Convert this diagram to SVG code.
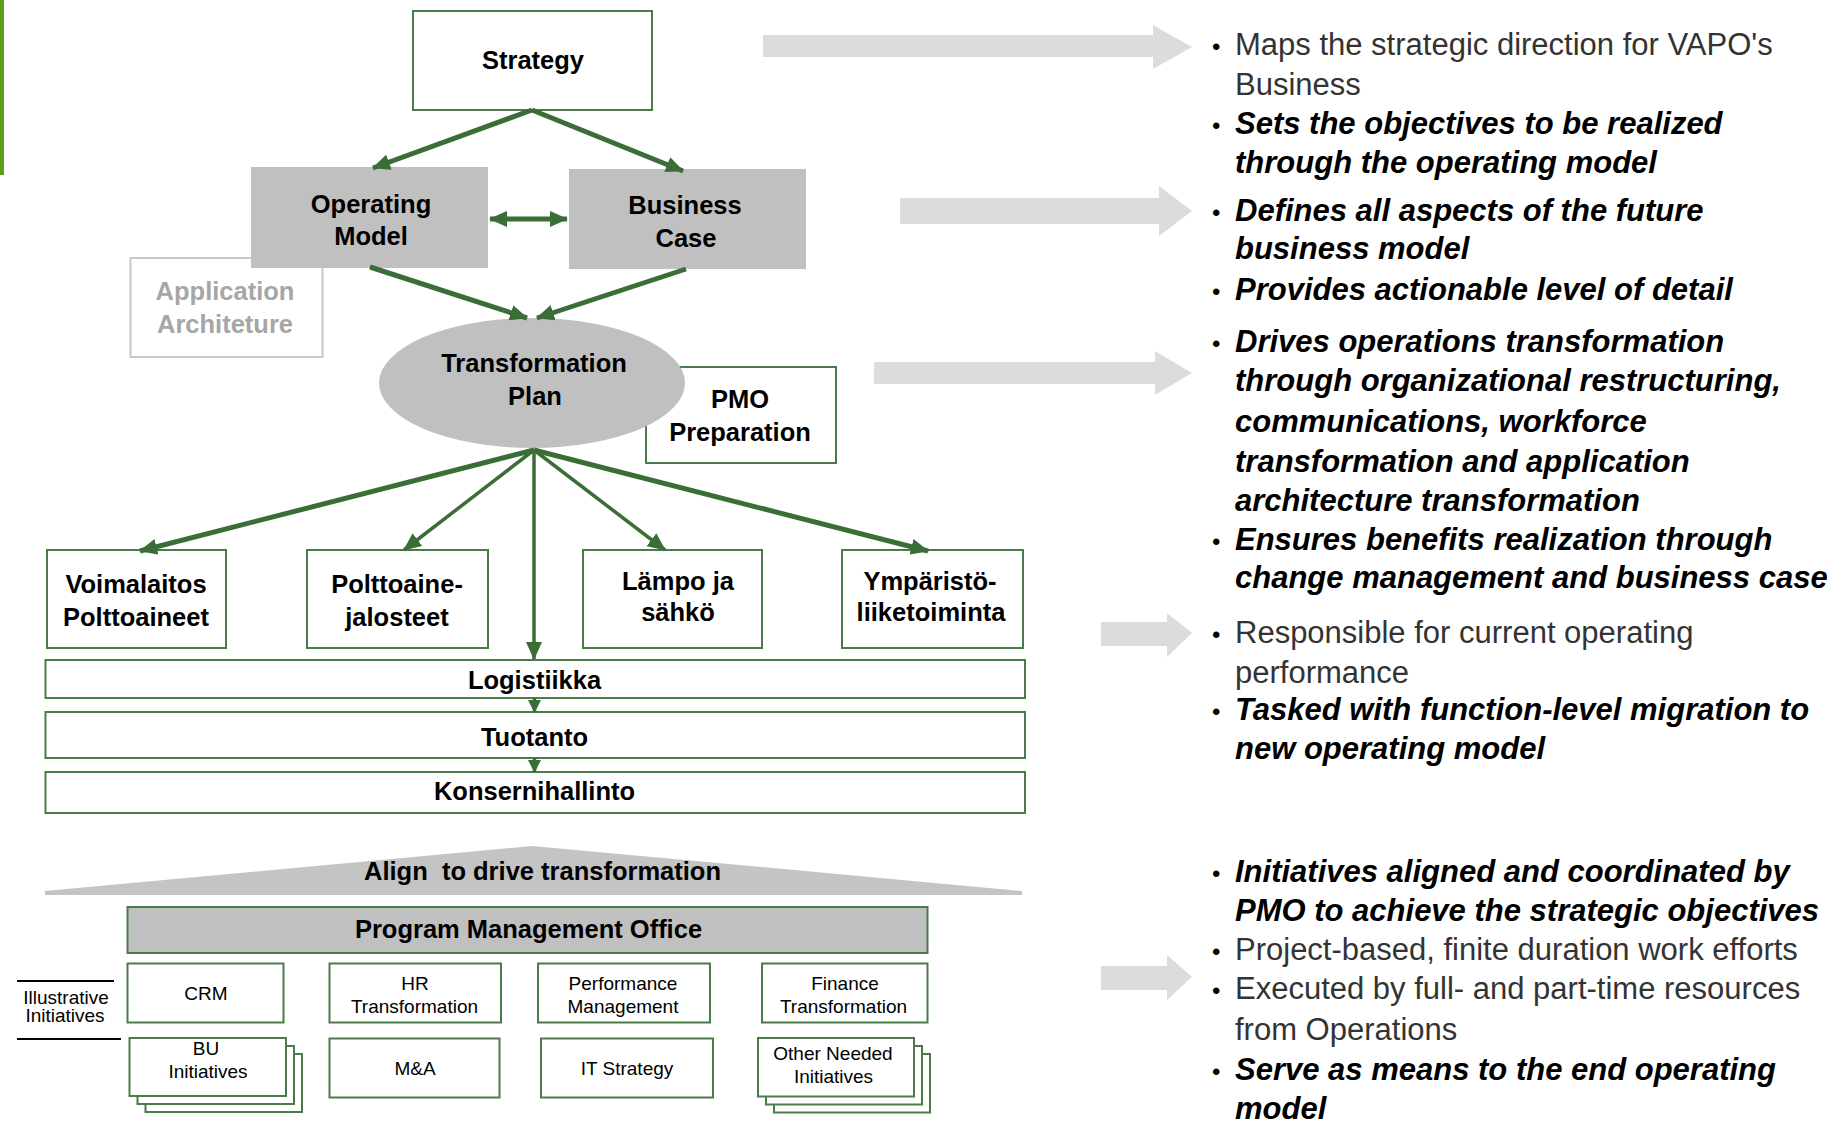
<svg xmlns="http://www.w3.org/2000/svg" width="1841" height="1125" viewBox="0 0 1841 1125">
<style>
.box{fill:#fff;stroke:#4a7c47;stroke-width:2}
.gbox{fill:#c0c0c0;stroke:none}
.lbl{font-family:"Liberation Sans",Arial,sans-serif;font-weight:bold;font-size:25.5px;text-anchor:middle;fill:#000}
.sm{font-family:"Liberation Sans",Arial,sans-serif;font-size:19px;text-anchor:middle;fill:#000}
.rt{font-family:"Liberation Sans",Arial,sans-serif;font-size:31px;fill:#333}
.bi{font-weight:bold;font-style:italic;fill:#000}
.bul{font-family:"Liberation Sans",Arial,sans-serif;font-size:24px;fill:#000}
.ptr{fill:#dcdcdc}
.conn line{stroke:#3b6e37;stroke-width:5}
.conn line.thin{stroke-width:3.5}
</style>
<defs>
<marker id="ah" markerUnits="userSpaceOnUse" markerWidth="18" markerHeight="16" viewBox="0 0 18 16" refX="17" refY="8" orient="auto"><path d="M0,0 L18,8 L0,16 z" fill="#3b6e37"/></marker>
<marker id="ahs" markerUnits="userSpaceOnUse" markerWidth="18" markerHeight="16" viewBox="0 0 18 16" refX="1" refY="8" orient="auto"><path d="M18,0 L0,8 L18,16 z" fill="#3b6e37"/></marker>
<marker id="ahsm" markerUnits="userSpaceOnUse" markerWidth="13" markerHeight="13" viewBox="0 0 13 13" refX="12" refY="6.5" orient="auto"><path d="M0,0 L13,6.5 L0,13 z" fill="#3b6e37"/></marker>
</defs>
<rect width="1841" height="1125" fill="#fff"/>
<rect x="0" y="0" width="4" height="175" fill="#5b9e1c"/>

<g id="pointers">
<polygon class="ptr" points="763,35 1153,35 1153,25 1192,47 1153,69 1153,57 763,57"/>
<polygon class="ptr" points="900,198 1159,198 1159,186 1192,211 1159,236 1159,224 900,224"/>
<polygon class="ptr" points="874,362 1155,362 1155,351 1192,373 1155,395 1155,384 874,384"/>
<polygon class="ptr" points="1101,622 1167,622 1167,613 1192,633 1167,657 1167,646 1101,646"/>
<polygon class="ptr" points="1101,966 1167,966 1167,955 1192,977 1167,1000 1167,990 1101,990"/>
</g>

<g id="strategy">
<rect class="box" x="413" y="11" width="239" height="99"/>
<text class="lbl" x="533" y="69">Strategy</text>
</g>
<g id="app-arch">
<rect x="130.5" y="258" width="192" height="99" fill="#fff" stroke="#c8c8c8" stroke-width="2"/>
<text class="lbl" x="225" y="300" fill="#a6a6a6" style="fill:#a6a6a6">Application</text>
<text class="lbl" x="225" y="333" style="fill:#a6a6a6">Architeture</text>
</g>
<g id="operating-model">
<rect class="gbox" x="251" y="167" width="237" height="101"/>
<text class="lbl" x="371" y="213">Operating</text>
<text class="lbl" x="371" y="245">Model</text>
</g>
<g id="business-case">
<rect class="gbox" x="569" y="169" width="237" height="100"/>
<text class="lbl" x="685" y="214">Business</text>
<text class="lbl" x="686" y="247">Case</text>
</g>
<g id="pmo-prep">
<rect class="box" x="646" y="367" width="190" height="96"/>
<text class="lbl" x="740" y="408">PMO</text>
<text class="lbl" x="740" y="440.5">Preparation</text>
</g>
<g id="transformation-plan">
<ellipse cx="532" cy="383" rx="153" ry="65" fill="#c0c0c0"/>
<text class="lbl" x="534" y="371.5">Transformation</text>
<text class="lbl" x="535" y="405">Plan</text>
</g>
<g id="voimalaitos">
<rect class="box" x="47" y="550" width="179" height="98"/>
<text class="lbl" x="136" y="592.5">Voimalaitos</text>
<text class="lbl" x="136" y="626">Polttoaineet</text>
</g>
<g id="polttoaine">
<rect class="box" x="307" y="550" width="181" height="98"/>
<text class="lbl" x="397" y="592.5">Polttoaine-</text>
<text class="lbl" x="397" y="626">jalosteet</text>
</g>
<g id="lampo">
<rect class="box" x="583" y="550" width="179" height="98"/>
<text class="lbl" x="678" y="590">Lämpo ja</text>
<text class="lbl" x="678" y="620.5">sähkö</text>
</g>
<g id="ymparisto">
<rect class="box" x="842" y="550" width="181" height="98"/>
<text class="lbl" x="930" y="590">Ympäristö-</text>
<text class="lbl" x="931" y="620.5">liiketoiminta</text>
</g>
<g id="logistiikka">
<rect class="box" x="45.5" y="660" width="979.5" height="38"/>
<text class="lbl" x="534.5" y="689">Logistiikka</text>
</g>
<g id="tuotanto">
<rect class="box" x="45.5" y="712" width="979.5" height="46"/>
<text class="lbl" x="534.5" y="746">Tuotanto</text>
</g>
<g id="konsernihallinto">
<rect class="box" x="45.5" y="772" width="979.5" height="41"/>
<text class="lbl" x="534.5" y="800">Konsernihallinto</text>
</g>

<g id="connectors" class="conn">
<line x1="532" y1="110" x2="373" y2="168" marker-end="url(#ah)"/>
<line x1="532" y1="110" x2="683" y2="171" marker-end="url(#ah)"/>
<line x1="490" y1="219" x2="567" y2="219" marker-start="url(#ahs)" marker-end="url(#ah)"/>
<line x1="370" y1="267" x2="527" y2="318" marker-end="url(#ah)"/>
<line x1="686" y1="269" x2="537" y2="318" marker-end="url(#ah)"/>
<line x1="534" y1="450" x2="140" y2="551" marker-end="url(#ah)"/>
<line class="thin" x1="534" y1="450" x2="404" y2="550" marker-end="url(#ah)"/>
<line class="thin" x1="534" y1="450" x2="534" y2="659" marker-end="url(#ah)"/>
<line class="thin" x1="534" y1="450" x2="665" y2="550" marker-end="url(#ah)"/>
<line x1="534" y1="450" x2="928" y2="551" marker-end="url(#ah)"/>
<line class="thin" x1="534.5" y1="698" x2="534.5" y2="712" marker-end="url(#ahsm)"/>
<line class="thin" x1="534.5" y1="758" x2="534.5" y2="772" marker-end="url(#ahsm)"/>
</g>

<g id="align">
<polygon points="45,891 532,846 1022,891 1022,895 45,895" fill="#c4c4c4"/>
<text class="lbl" x="542.5" y="880" xml:space="preserve">Align  to drive transformation</text>
</g>
<g id="pmo">
<rect x="127.5" y="907" width="800" height="46" fill="#c0c0c0" stroke="#4a7c47" stroke-width="2"/>
<text class="lbl" x="528.5" y="938">Program Management Office</text>
</g>
<g id="illustrative">
<line x1="17" y1="981" x2="114" y2="981" stroke="#000" stroke-width="2"/>
<line x1="17" y1="1039" x2="121" y2="1039" stroke="#000" stroke-width="2"/>
<text class="sm" x="66" y="1004">Illustrative</text>
<text class="sm" x="65" y="1021.5">Initiatives</text>
</g>
<g id="crm">
<rect class="box" x="127.5" y="963.5" width="156" height="59"/>
<text class="sm" x="206" y="1000">CRM</text>
</g>
<g id="hr">
<rect class="box" x="329.5" y="963.5" width="171.5" height="59"/>
<text class="sm" x="415" y="990">HR</text>
<text class="sm" x="414.5" y="1012.5">Transformation</text>
</g>
<g id="performance">
<rect class="box" x="538" y="963.5" width="172" height="59"/>
<text class="sm" x="623" y="990">Performance</text>
<text class="sm" x="623" y="1012.5">Management</text>
</g>
<g id="finance">
<rect class="box" x="762" y="963.5" width="165.5" height="59"/>
<text class="sm" x="845" y="990">Finance</text>
<text class="sm" x="843.5" y="1012.5">Transformation</text>
</g>
<g id="bu">
<rect class="box" x="145.5" y="1054" width="156.5" height="58"/>
<rect class="box" x="137.5" y="1046" width="156.5" height="58"/>
<rect class="box" x="129.5" y="1038" width="156.5" height="58"/>
<text class="sm" x="206" y="1055">BU</text>
<text class="sm" x="208" y="1078">Initiatives</text>
</g>
<g id="ma">
<rect class="box" x="329.5" y="1038.5" width="170" height="59"/>
<text class="sm" x="415" y="1075">M&amp;A</text>
</g>
<g id="it-strategy">
<rect class="box" x="541" y="1038.5" width="172" height="59"/>
<text class="sm" x="627" y="1075">IT Strategy</text>
</g>
<g id="other">
<rect class="box" x="774" y="1054" width="156" height="58.5"/>
<rect class="box" x="766" y="1046" width="156" height="58.5"/>
<rect class="box" x="758" y="1038" width="156" height="58.5"/>
<text class="sm" x="833" y="1060">Other Needed</text>
<text class="sm" x="833.5" y="1083">Initiatives</text>
</g>

<g id="notes">
<g class="bul">
<text x="1212" y="55">•</text>
<text x="1212" y="134">•</text>
<text x="1212" y="220.7">•</text>
<text x="1212" y="300">•</text>
<text x="1212" y="351.7">•</text>
<text x="1212" y="550">•</text>
<text x="1212" y="643.3">•</text>
<text x="1212" y="720">•</text>
<text x="1212" y="881.7">•</text>
<text x="1212" y="960">•</text>
<text x="1212" y="999.3">•</text>
<text x="1212" y="1080">•</text>
</g>
<g class="rt">
<text x="1235" y="55">Maps the strategic direction for VAPO's</text>
<text x="1235" y="95">Business</text>
<text class="bi" x="1235" y="134">Sets the objectives to be realized</text>
<text class="bi" x="1235" y="173.3">through the operating model</text>
<text class="bi" x="1235" y="220.7">Defines all aspects of the future</text>
<text class="bi" x="1235" y="259.3">business model</text>
<text class="bi" x="1235" y="300">Provides actionable level of detail</text>
<text class="bi" x="1235" y="351.7">Drives operations transformation</text>
<text class="bi" x="1235" y="390.7">through organizational restructuring,</text>
<text class="bi" x="1235" y="431.7">communications, workforce</text>
<text class="bi" x="1235" y="471.7">transformation and application</text>
<text class="bi" x="1235" y="510.7">architecture transformation</text>
<text class="bi" x="1235" y="550">Ensures benefits realization through</text>
<text class="bi" x="1235" y="588.3">change management and business case</text>
<text x="1235" y="643.3">Responsible for current operating</text>
<text x="1235" y="683.3">performance</text>
<text class="bi" x="1235" y="720">Tasked with function-level migration to</text>
<text class="bi" x="1235" y="759.3">new operating model</text>
<text class="bi" x="1235" y="881.7">Initiatives aligned and coordinated by</text>
<text class="bi" x="1235" y="921">PMO to achieve the strategic objectives</text>
<text x="1235" y="960">Project-based, finite duration work efforts</text>
<text x="1235" y="999.3">Executed by full- and part-time resources</text>
<text x="1235" y="1040">from Operations</text>
<text class="bi" x="1235" y="1080">Serve as means to the end operating</text>
<text class="bi" x="1235" y="1119.3">model</text>
</g>
</g>
</svg>
